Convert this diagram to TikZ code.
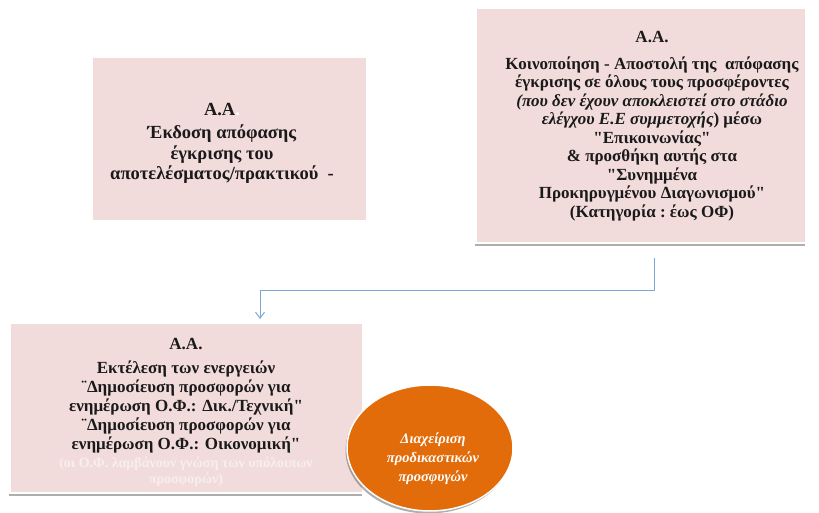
\documentclass[tikz,border=0pt]{standalone}
\usepackage{fontspec}
\setmainfont{Liberation Serif}[Ligatures=TeXOff]
\usetikzlibrary{shadows,shapes.geometric,arrows.meta}
\definecolor{boxpink}{HTML}{F2DCDB}
\definecolor{txt}{HTML}{1A1A1A}
\definecolor{lighttxt}{HTML}{F7EEEE}
\definecolor{arrowblue}{HTML}{7FA6D8}
\definecolor{orangefill}{HTML}{E36C0A}
\newcommand{\lighttext}[1]{\textcolor{lighttxt}{\fontsize{14}{15}\selectfont #1}}
\tikzset{
  pinkbox/.style={rectangle, fill=boxpink, draw=white, line width=2pt, inner sep=0pt},
  boxtext/.style={align=center, text=txt, inner sep=0pt, font=\bfseries\fontsize{17}{19}\selectfont},
  shadowed/.style={drop shadow={shadow xshift=-1.5pt, shadow yshift=-2.5pt, opacity=0.45, fill=black!70}},
  conn/.style={draw=arrowblue, line width=1pt, -{Straight Barb[length=6pt,width=9pt]}},
}
\begin{document}
\begin{tikzpicture}[x=1pt,y=-1pt]
\useasboundingbox (0,0) rectangle (819,513);
\fill[white] (0,0) rectangle (819,513);

% Box 1
\node[pinkbox, minimum width=275pt, minimum height=164pt, draw=white!96!boxpink] (b1) at (229.5,139) {};
\node[boxtext, font=\bfseries\fontsize{18.5}{20.5}\selectfont] (t1) at (222,143.5) {%
Α.Α\textcolor{white}{.}\\[2.5pt]
Έκδοση απόφασης\\
έγκρισης του\\
αποτελέσματος/πρακτικού\ \ -};

% Box 2
\node[pinkbox, shadowed, minimum width=330pt, minimum height=235pt] (b2) at (641,125.5) {};
\node[boxtext, font=\bfseries\fontsize{17}{18.5}\selectfont] (t2) at (652,126) {%
Α.Α.\\[8.5pt]
Κοινοποίηση - Αποστολή της\ \ απόφασης\\
έγκρισης σε όλους τους προσφέροντες\\
\textit{(που δεν έχουν αποκλειστεί στο στάδιο}\\
\textit{ελέγχου Ε.Ε συμμετοχής})\ μέσω\\
"Επικοινωνίας"\\
\&\ προσθήκη αυτής στα\\
"Συνημμένα\\
Προκηρυγμένου Διαγωνισμού"\\
(Κατηγορία\ :\ έως ΟΦ)};

% Box 3
\node[pinkbox, shadowed, minimum width=353pt, minimum height=170pt] (b3) at (186.5,408) {};
\node[boxtext] (t3) at (186,412) {%
Α.Α.\\[5pt]
Εκτέλεση των ενεργειών\\
¨Δημοσίευση προσφορών για\\
ενημέρωση Ο.Φ.: Δικ./Τεχνική"\\
¨Δημοσίευση προσφορών για\\
ενημέρωση Ο.Φ.: Οικονομική"\\[-1pt]
\lighttext{(οι Ο.Φ. λαμβάνουν γνώση των υπόλοιπων}\\[-3pt]
\lighttext{προσφορών)}};

% Ellipse
\node[ellipse, shadowed, fill=orangefill, draw=white, line width=1.5pt, minimum width=166pt, minimum height=126pt, inner sep=0pt] (e) at (430,448) {};
\node[align=center, text=white, inner sep=0pt, font=\bfseries\itshape\fontsize{14.5}{19}\selectfont] (te) at (433,459) {%
Διαχείριση\\
προδικαστικών\\
προσφυγών};

\coordinate (s) at (654,258);
\coordinate (m1) at (654,290);
\coordinate (m2) at (260,290);
\coordinate (t) at (260,319);
\draw[conn] (s) -- (m1) -- (m2) -- (t);
\end{tikzpicture}
\end{document}
